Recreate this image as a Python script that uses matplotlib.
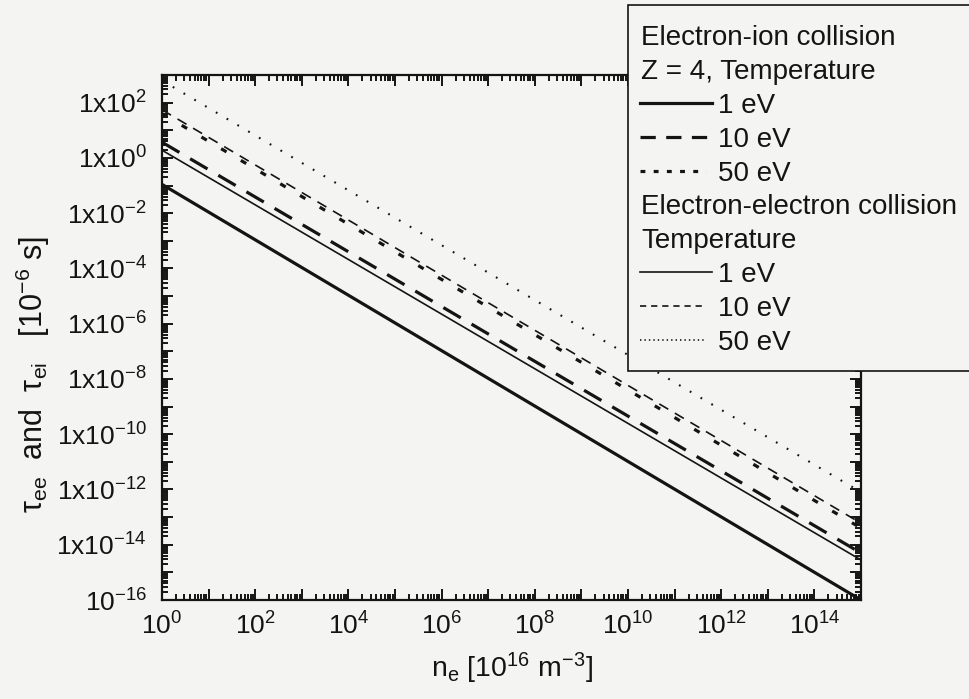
import matplotlib
matplotlib.use("Agg")
import matplotlib.pyplot as plt
import numpy as np
from matplotlib.ticker import FixedLocator, FixedFormatter, LogLocator, NullFormatter
from matplotlib.transforms import Affine2D
from matplotlib.lines import Line2D
from matplotlib.patches import Rectangle

plt.rcParams['font.family'] = ['Liberation Sans', 'DejaVu Sans']
plt.rcParams['mathtext.fontset'] = 'custom'
plt.rcParams['mathtext.rm'] = 'Liberation Sans'
plt.rcParams['mathtext.it'] = 'Liberation Sans:italic'
plt.rcParams['mathtext.bf'] = 'Liberation Sans:bold'
plt.rcParams['lines.scale_dashes'] = False

# Daten (Endpunkte der Geraden im log-log Diagramm)
n_e = [1.0, 1.0e15]
tau_ei_1eV = [0.11, 1.0e-16]
tau_ei_10eV = [3.7, 5.0e-15]
tau_ei_50eV = [40.0, 4.0e-14]
tau_ee_1eV = [1.9, 2.8e-15]
tau_ee_10eV = [55.0, 6.0e-14]
tau_ee_50eV = [630.0, 8.0e-13]

x_tick_exp = list(range(0, 16))
x_tick_labels = [r'10$^{%d}$' % e if e % 2 == 0 else '' for e in x_tick_exp]
y_tick_exp = list(range(-16, 4))
y_tick_labels = []
for e in y_tick_exp:
    if e == -16:
        y_tick_labels.append(r'10$^{-16}$')
    elif e % 2 == 0 and e <= 2:
        y_tick_labels.append(r'1x10$^{%d}$' % e)
    else:
        y_tick_labels.append('')

bg = '#f4f4f2'
ink = '#141414'

fig = plt.figure(figsize=(9.69, 6.99), dpi=100, facecolor=bg)
ax = fig.add_axes([162 / 969, 1 - 600 / 699, (861 - 162) / 969, (600 - 75) / 699])
ax.set_facecolor(bg)

# Linien
thick = 2.3
thin = 1.2
ax.plot(n_e, tau_ei_1eV, color=ink, lw=thick, solid_capstyle='butt')
ax.plot(n_e, tau_ei_10eV, color=ink, lw=thick, dashes=(14.5, 9))
ax.plot(n_e, tau_ei_50eV, color=ink, lw=thick, dashes=(4.5, 12))
ax.plot(n_e, tau_ee_1eV, color=ink, lw=thin)
ax.plot(n_e, tau_ee_10eV, color=ink, lw=thin, dashes=(7.5, 5.5))
ax.plot(n_e, tau_ee_50eV, color=ink, lw=thin + 0.3, dashes=(1.3, 7.7))

ax.set_xscale('log')
ax.set_yscale('log')
ax.set_xlim(1, 1e15)
ax.set_ylim(1e-16, 1e3)

ax.xaxis.set_major_locator(FixedLocator([10.0 ** e for e in x_tick_exp]))
ax.xaxis.set_major_formatter(FixedFormatter(x_tick_labels))
ax.yaxis.set_major_locator(FixedLocator([10.0 ** e for e in y_tick_exp]))
ax.yaxis.set_major_formatter(FixedFormatter(y_tick_labels))
ax.xaxis.set_minor_locator(LogLocator(base=10, subs=np.arange(2, 10), numticks=200))
ax.yaxis.set_minor_locator(LogLocator(base=10, subs=np.arange(2, 10), numticks=200))
ax.xaxis.set_minor_formatter(NullFormatter())
ax.yaxis.set_minor_formatter(NullFormatter())

ax.tick_params(which='both', direction='in', top=True, right=True, colors=ink, width=1.4)
ax.tick_params(which='major', length=8)
ax.tick_params(which='minor', length=4)
ax.tick_params(axis='x', which='major', labelsize=19, pad=9)
ax.tick_params(axis='y', which='major', labelsize=19, pad=11)
for s in ax.spines.values():
    s.set_linewidth(1.6)
    s.set_color(ink)

ax.set_xlabel(r'n$_{\rm e}$ [10$^{16}$ m$^{-3}$]', fontsize=20.5, color=ink, labelpad=8)
ax.set_ylabel(r'τ$_{\rm ee}$  and  τ$_{\rm ei}$   [10$^{-6}$ s]', fontsize=22, color=ink)
ax.yaxis.set_label_coords(-0.158, 0.43)

# Legende (von Hand, in Pixelkoordinaten der Abbildung)
px = Affine2D().scale(1 / 969, -1 / 699).translate(0, 1) + fig.transFigure
fig.patches.append(Rectangle((628, 5), 360, 366, transform=px, facecolor=bg,
                             edgecolor=ink, lw=1.2, zorder=5))

rows = [35 + 33.9 * i for i in range(10)]
entries = [
    ('Electron-ion collision', None, None),
    ('Z = 4, Temperature', None, None),
    ('1 eV', thick, None),
    ('10 eV', thick, (11, 7.5)),
    ('50 eV', thick, (3.5, 6)),
    ('Electron-electron collision', None, None),
    ('Temperature', None, None),
    ('1 eV', thin, None),
    ('10 eV', thin, (4.5, 3.5)),
    ('50 eV', thin, (1.0, 2.2)),
]
for y, (label, lw, dash) in zip(rows, entries):
    if lw is None:
        fig.text(641, y + 10, label, transform=px, fontsize=20, color=ink,
                 ha='left', va='baseline', zorder=6)
        continue
    x_end = 712 if dash is None or dash[0] > 5 else 706
    ln = Line2D([640, x_end], [y, y], transform=px, color=ink, lw=lw, zorder=6)
    if dash is not None:
        ln.set_dashes(dash)
    fig.lines.append(ln)
    fig.text(718, y + 10, label, transform=px, fontsize=20, color=ink,
             ha='left', va='baseline', zorder=6)

fig.savefig('out.png', dpi=100, facecolor=bg)
